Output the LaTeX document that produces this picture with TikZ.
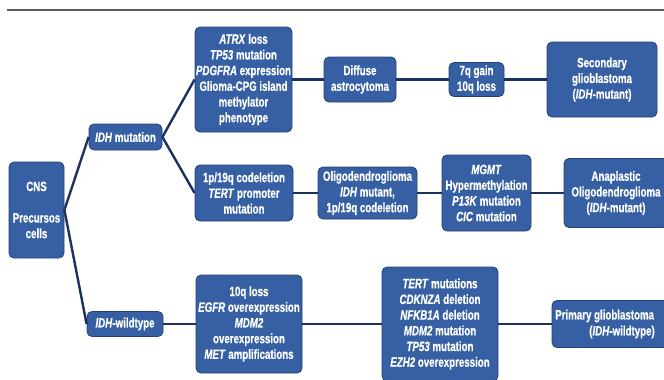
\documentclass[tikz,border=0pt]{standalone}
\usepackage{fontspec}
\setmainfont{Liberation Sans}[FakeStretch=0.72, FakeBold=0.6]
\definecolor{boxfill}{RGB}{54,96,163}
\definecolor{boxdraw}{RGB}{36,64,116}
\definecolor{linkcol}{RGB}{28,50,94}
\definecolor{rulecol}{RGB}{90,90,90}
\tikzset{
  genebox/.style={draw=boxdraw, fill=boxfill, rounded corners=5pt, text=white,
    font=\bfseries\fontsize{13.5}{15.7}\selectfont, align=center, inner sep=0pt,
    line width=0.8pt},
  boxtext/.style={text=white, font=\bfseries\fontsize{13.5}{15.7}\selectfont, align=center, inner sep=0pt},
  link/.style={draw=linkcol, line width=2.4pt},
}
\newcommand{\gn}[1]{\textit{#1}}
\begin{document}
\begin{tikzpicture}[x=1pt,y=-1pt]
\useasboundingbox (0,0) rectangle (664,380);
\clip (0,0) rectangle (664,380);
\draw[rulecol, line width=2pt] (7,10) -- (664,10);

\node[genebox, minimum width=55pt, minimum height=96pt] (cns) at (36.5,210) {CNS\\[15.7pt]Precursos\\cells};
\node[genebox, minimum width=73pt, minimum height=26pt] (idhm) at (125.5,137) {\gn{IDH} mutation};
\node[genebox, minimum width=76pt, minimum height=25pt] (idhw) at (125,324) {\gn{IDH}-wildtype};

\node[genebox, minimum width=97pt, minimum height=105pt] (atrx) at (243.5,79.5) {\gn{ATRX} loss\\\gn{TP53} mutation\\\gn{PDGFRA} expression\\Glioma-CPG island\\methylator\\phenotype};
\node[genebox, minimum width=72pt, minimum height=45pt] (diff) at (360,79.5) {Diffuse\\astrocytoma};
\node[genebox, minimum width=55pt, minimum height=34pt] (g7) at (476.5,79.5) {7q gain\\10q loss};
\node[genebox, minimum width=110pt, minimum height=75pt] (sec) at (602,79.5) {Secondary\\glioblastoma\\(\gn{IDH}-mutant)};

\node[genebox, minimum width=98pt, minimum height=56pt] (p1) at (244,193) {1p/19q codeletion\\\gn{TERT} promoter\\mutation};
\node[genebox, minimum width=99pt, minimum height=52pt] (oli) at (367.5,193) {Oligodendroglioma\\\gn{IDH} mutant,\\1p/19q codeletion};
\node[genebox, minimum width=89pt, minimum height=76pt] (mgmt) at (486.5,193) {\gn{MGMT}\\Hypermethylation\\\gn{P13K} mutation\\\gn{CIC} mutation};
\node[genebox, minimum width=104pt, minimum height=69pt] (ana) at (616,193) {Anaplastic\\Oligodendroglioma\\(\gn{IDH}-mutant)};

\node[genebox, minimum width=106pt, minimum height=98pt] (q10) at (249,324) {10q loss\\\gn{EGFR} overexpression\\\gn{MDM2}\\overexpression\\\gn{MET} amplifications};
\node[genebox, minimum width=116pt, minimum height=114pt] (tert) at (440,324) {\gn{TERT} mutations\\\gn{CDKNZA} deletion\\\gn{NFKB1A} deletion\\\gn{MDM2} mutation\\\gn{TP53} mutation\\\gn{EZH2} overexpression};
\node[genebox, minimum width=140pt, minimum height=47pt] (prim) at (622,324) {};
\node[boxtext, anchor=west] (primA) at (555,316) {Primary glioblastoma};
\node[boxtext] (primB) at (622,332) {(\gn{IDH}-wildtype)};

\draw[link] (cns.east) -- (idhm.west);
\draw[link] (cns.east) -- (idhw.west);
\draw[link] (idhm.east) -- (atrx.west);
\draw[link] (idhm.east) -- (p1.west);
\draw[link] (idhw.east) -- (q10.west);
\draw[link] (atrx.east) -- (diff.west);
\draw[link] (diff.east) -- (g7.west);
\draw[link] (g7.east) -- (sec.west);
\draw[link] (p1.east) -- (oli.west);
\draw[link] (oli.east) -- (mgmt.west);
\draw[link] (mgmt.east) -- (ana.west);
\draw[link] (q10.east) -- (tert.west);
\draw[link] (tert.east) -- (prim.west);
\end{tikzpicture}
\end{document}
